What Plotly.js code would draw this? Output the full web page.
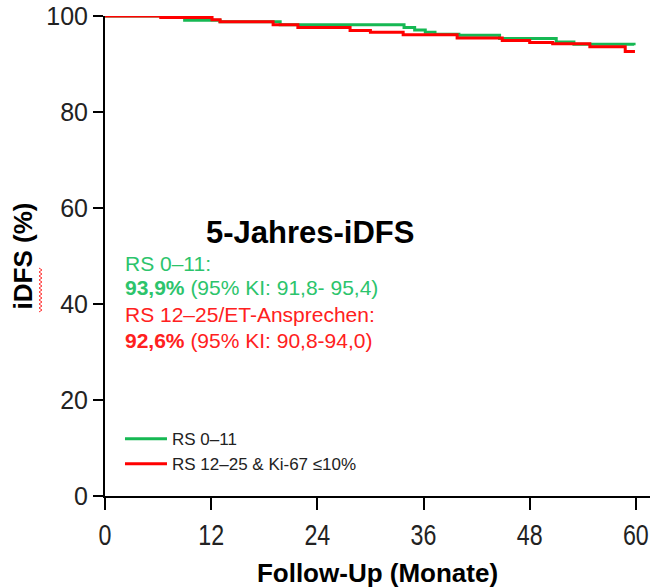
<!DOCTYPE html>
<html>
<head>
<meta charset="utf-8">
<script src="https://cdn.plot.ly/plotly-3.0.1.min.js"></script>
<style>html,body{margin:0;padding:0;background:#fff;}#chart{width:652px;height:588px;}</style>
</head>
<body>
<div id="chart"></div>
<script>
// RS 0–11 (green)
const greenT = [0, 6.5, 9, 13, 19.8, 33.8, 35, 36.2, 37.3, 40, 44.6, 51, 53, 59.8];
const greenS = [100, 99.7, 99.1, 98.8, 98.2, 97.6, 97.1, 96.6, 96.2, 96.0, 95.3, 94.6, 94.1, 93.9];
// RS 12–25 & Ki-67 ≤10% (red)
const redT = [0, 6.3, 12.1, 13, 19, 21.8, 27.7, 30, 33.7, 39.8, 44.9, 48, 50.6, 54.8, 58.8, 59.9];
const redS = [100, 99.7, 99.2, 98.8, 98.2, 97.6, 97.0, 96.6, 96.1, 95.4, 94.9, 94.5, 94.2, 93.6, 92.6, 92.6];

const xTicks = [0, 12, 24, 36, 48, 60];
const yTicks = [0, 20, 40, 60, 80, 100];
const seriesNames = ["RS 0–11", "RS 12–25 & Ki-67 ≤10%"];

const GREEN = "#16b853";
const RED = "#ff0000";
const GREEN_TXT = "#2cc46c";
const RED_TXT = "#ff2020";

const traces = [
  {x: greenT, y: greenS, name: seriesNames[0], mode: "lines", line: {shape: "hv", color: GREEN, width: 3}, legendgroup: "g", cliponaxis: false},
  {x: redT, y: redS, name: seriesNames[1], mode: "lines", line: {shape: "hv", color: RED, width: 3}, legendgroup: "r", cliponaxis: false}
];

const F = "Liberation Sans, Arial, sans-serif";

// spell-check style squiggle under "iDFS" in the y-axis title (decoration)
const L = 105, W = 545, B = 496, H = 480;
function px2paper(px, py) { return [((px - L) / W).toFixed(5), ((B - py) / H).toFixed(5)]; }
let sq = "";
for (let i = 0, py = 312; py >= 268; py -= 2, i++) {
  const p = px2paper(i % 2 ? 42 : 39, py);
  sq += (i === 0 ? "M" : "L") + p[0] + "," + p[1];
}

const layout = {
  width: 652, height: 588,
  margin: {l: 105, r: 2, t: 16, b: 92},
  paper_bgcolor: "#fff", plot_bgcolor: "#fff",
  font: {family: F, color: "#000"},
  showlegend: true,
  legend: {x: 0.0275, y: 0.156, xanchor: "left", yanchor: "top", font: {family: F, size: 17, color: "#222"}, tracegroupgap: 0, itemwidth: 42, bgcolor: "rgba(0,0,0,0)"},
  xaxis: {
    range: [0, 61.6], tickvals: xTicks, ticktext: xTicks.map(String),
    showgrid: false, zeroline: false, showline: true, linecolor: "#000", linewidth: 2,
    ticks: "outside", ticklen: 12, tickwidth: 2, tickcolor: "#000",
    tickfont: {family: F, size: 29, color: "#222"},
    title: {text: "<b>Follow-Up (Monate)</b>", font: {family: F, size: 26, color: "#000"}, standoff: 16}
  },
  yaxis: {
    range: [0, 100], tickvals: yTicks, ticktext: yTicks.map(String),
    showgrid: false, zeroline: false, showline: true, linecolor: "#000", linewidth: 2,
    ticks: "outside", ticklen: 10, tickwidth: 2, tickcolor: "#000",
    tickfont: {family: F, size: 25, color: "#222"},
    title: {text: "<b>iDFS (%)</b>", font: {family: F, size: 26, color: "#000"}, standoff: 6}
  },
  shapes: [
    {type: "path", xref: "paper", yref: "paper", path: sq, line: {color: "#ff3030", width: 1}, layer: "above"}
  ],
  annotations: [
    {x: 23.2, y: 55, xref: "x", yref: "y", text: "<b>5-Jahres-iDFS</b>", showarrow: false, font: {family: F, size: 31, color: "#000"}},
    {x: 2.0, y: 48.5, xref: "x", yref: "y", xanchor: "left", text: "RS 0–11:", showarrow: false, font: {family: F, size: 21, color: GREEN_TXT}},
    {x: 2.0, y: 43.5, xref: "x", yref: "y", xanchor: "left", text: "<b>93,9%</b> (95% KI: 91,8- 95,4)", showarrow: false, font: {family: F, size: 21, color: GREEN_TXT}},
    {x: 2.0, y: 37.9, xref: "x", yref: "y", xanchor: "left", text: "RS 12–25/ET-Ansprechen:", showarrow: false, font: {family: F, size: 21, color: RED_TXT}},
    {x: 2.0, y: 32.3, xref: "x", yref: "y", xanchor: "left", text: "<b>92,6%</b> (95% KI: 90,8-94,0)", showarrow: false, font: {family: F, size: 21, color: RED_TXT}}
  ]
};

const gd = document.getElementById("chart");
function narrowTicks() {
  // condensed x tick labels as in the original: squeeze each label horizontally about its centre
  const texts = document.querySelectorAll("g.xtick text, .xtick text");
  texts.forEach(function (t) {
    if (t.getAttribute("data-narrow") === "1") return;
    const tr = t.getAttribute("transform") || "";
    const x = parseFloat(t.getAttribute("x") || "0");
    t.setAttribute("transform", tr + " translate(" + x + ",0) scale(0.8,1) translate(" + (-x) + ",0)");
    t.setAttribute("data-narrow", "1");
  });
}
Plotly.newPlot(gd, traces, layout, {displayModeBar: false, staticPlot: true}).then(function () {
  narrowTicks();
  setTimeout(narrowTicks, 30);
});
</script>
</body>
</html>
